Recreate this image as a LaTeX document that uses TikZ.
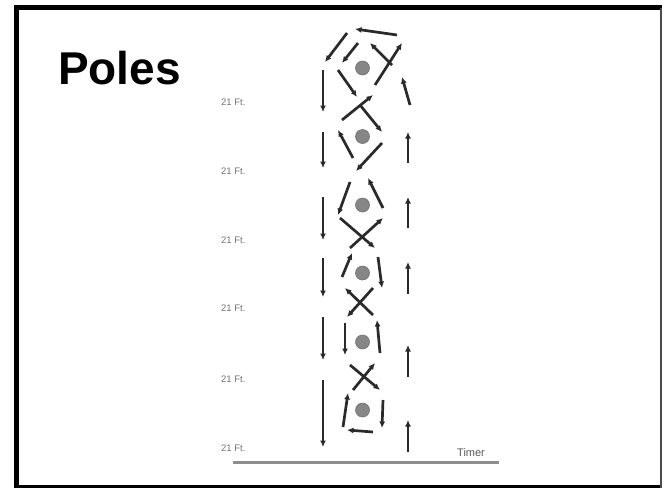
\documentclass[tikz,border=0pt]{standalone}
\usepackage{fontspec}
\setmainfont{Liberation Sans}
\usetikzlibrary{arrows.meta}
\usepackage{xcolor}
\definecolor{ink}{HTML}{2A2A2A}
\definecolor{polegray}{HTML}{868686}
\definecolor{rulegray}{HTML}{8E8E8E}
\tikzset{
  pole/.style={circle, fill=polegray, draw=polegray!85!black, line width=0.6pt, minimum size=14pt, inner sep=0pt},
  run/.style={-{Latex[length=6.5pt,width=6pt]}, line width=2.7pt, draw=ink},
  ftlabel/.style={font=\fontsize{9.5}{10}\selectfont, text=black!55, anchor=west, inner sep=0pt}
}

\begin{document}
\begin{tikzpicture}[x=1pt, y=-1pt]
  \useasboundingbox (0,0) rectangle (664,488);
  % frame
  \draw[line width=5pt] (16,488) -- (16,7.5) -- (662,7.5);
  \draw[line width=3pt] (13.5,486.5) -- (662,486.5);
  \draw[line width=2pt, draw=black!70] (661,7.5) -- (661,488);
  \node[font=\bfseries\fontsize{46}{50}\selectfont, anchor=base west, inner sep=0pt] (title) at (58,84) {Poles};
  % poles and distances
  \foreach \i/\y in {1/68,2/136.5,3/205,4/273,5/342,6/410}
    \node[pole] (p\i) at (362.5,\y) {};
  \foreach \i/\y in {1/102,2/171,3/240,4/308,5/379,6/448}
    \node[ftlabel] (ft\i) at (221,\y) {21 Ft.};
  \coordinate (lineL) at (233,462.5);
  \coordinate (lineR) at (499,462.5);
  \draw[line width=3pt, draw=rulegray] (lineL) -- (lineR);
  \node[font=\fontsize{11}{12}\selectfont, text=black!65, anchor=base west, inner sep=0pt] (timer) at (457,456) {Timer};
  % outer run: up the right side, across the top, home down the left
  \foreach \a/\b in {{408,452}/{408,420}, {408,377}/{408,345}, {408,294}/{408,262},
                     {408,228}/{408,197}, {408,163}/{408,132}, {410,105}/{402,77},
                     {397,35}/{355,29}, {347,33}/{325,62},
                     {323,70}/{323,112}, {323,132}/{323,168}, {323,197}/{323,240},
                     {323,258}/{323,297}, {323,317}/{323,360}, {323,380}/{323,447}}
    \draw[run] (\a) -- (\b);
  % weave through the poles
  \foreach \a/\b in {{358,43}/{342,63}, {338,70}/{357,97}, {360,105}/{382,132},
                     {382,143}/{356,171}, {350,182}/{338,215}, {340,218}/{375,248},
                     {378,257}/{382,288}, {373,288}/{347,317}, {345,323}/{345,355},
                     {350,365}/{380,390}, {383,400}/{382,428}, {373,432}/{347,430},
                     {343,427}/{348,393}, {353,390}/{375,363}, {380,353}/{377,320},
                     {373,315}/{345,288}, {342,277}/{352,253}, {350,248}/{383,218},
                     {383,208}/{368,178}, {353,158}/{338,130}, {342,120}/{373,95},
                     {375,85}/{402,43}, {392,65}/{370,43}}
    \draw[run] (\a) -- (\b);
\end{tikzpicture}
\end{document}
